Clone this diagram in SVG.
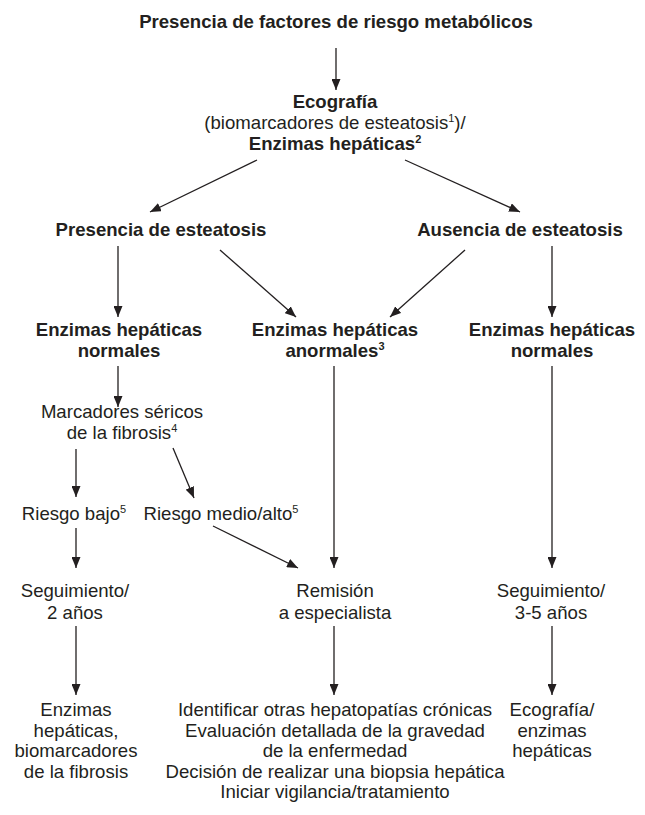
<svg xmlns="http://www.w3.org/2000/svg" width="645" height="815" viewBox="0 0 645 815">
<style>
text{font-family:"Liberation Sans",Arial,Helvetica,sans-serif;font-size:18.6px;fill:#231f20;text-anchor:middle}
.b{font-weight:bold}
.s{font-size:11px}
.c line{stroke:#231f20;stroke-width:1.3;fill:none;marker-end:url(#ah)}
</style>
<defs>
<marker id="ah" markerUnits="userSpaceOnUse" markerWidth="11" markerHeight="9" refX="11" refY="4.5" orient="auto">
<path d="M0,0 L11,4.5 L0,9 Z" fill="#231f20"/>
</marker>
</defs>
<rect width="645" height="815" fill="#fff"/>
<g id="n-factores"><text class="b" x="336" y="28">Presencia de factores de riesgo metabólicos</text></g>
<g id="n-ecografia">
<text class="b" x="335" y="108">Ecografía</text>
<text x="335" y="129">(biomarcadores de esteatosis<tspan class="s" dy="-7">1</tspan><tspan dy="7">)/</tspan></text>
<text class="b" x="335" y="150">Enzimas hepáticas<tspan class="s" dy="-7">2</tspan></text>
</g>
<g id="n-presencia"><text class="b" x="161" y="236">Presencia de esteatosis</text></g>
<g id="n-ausencia"><text class="b" x="520" y="236">Ausencia de esteatosis</text></g>
<g id="n-normales-izq">
<text class="b" x="119" y="336">Enzimas hepáticas</text>
<text class="b" x="119" y="357">normales</text>
</g>
<g id="n-anormales">
<text class="b" x="335" y="336">Enzimas hepáticas</text>
<text class="b" x="335" y="357">anormales<tspan class="s" dy="-7">3</tspan></text>
</g>
<g id="n-normales-der">
<text class="b" x="552" y="336">Enzimas hepáticas</text>
<text class="b" x="552" y="357">normales</text>
</g>
<g id="n-marcadores">
<text x="122" y="418">Marcadores séricos</text>
<text x="122" y="439">de la fibrosis<tspan class="s" dy="-7">4</tspan></text>
</g>
<g id="n-bajo"><text x="74" y="520">Riesgo bajo<tspan class="s" dy="-7">5</tspan></text></g>
<g id="n-medio"><text x="221" y="520">Riesgo medio/alto<tspan class="s" dy="-7">5</tspan></text></g>
<g id="n-seg2">
<text x="75" y="597">Seguimiento/</text>
<text x="75" y="619">2 años</text>
</g>
<g id="n-remision">
<text x="335" y="597">Remisión</text>
<text x="335" y="619">a especialista</text>
</g>
<g id="n-seg35">
<text x="551" y="597">Seguimiento/</text>
<text x="551" y="619">3-5 años</text>
</g>
<g id="n-final-izq">
<text x="76" y="716">Enzimas</text>
<text x="76" y="737">hepáticas,</text>
<text x="76" y="757">biomarcadores</text>
<text x="76" y="778">de la fibrosis</text>
</g>
<g id="n-final-centro">
<text x="335" y="716">Identificar otras hepatopatías crónicas</text>
<text x="335" y="737">Evaluación detallada de la gravedad</text>
<text x="335" y="757">de la enfermedad</text>
<text x="335" y="778">Decisión de realizar una biopsia hepática</text>
<text x="335" y="798">Iniciar vigilancia/tratamiento</text>
</g>
<g id="n-final-der">
<text x="552" y="716">Ecografía/</text>
<text x="552" y="737">enzimas</text>
<text x="552" y="757">hepáticas</text>
</g>
<g id="connectors" class="c">
<line x1="336" y1="48" x2="336" y2="90"/>
<line x1="257" y1="160" x2="150" y2="212"/>
<line x1="405" y1="160" x2="520" y2="212"/>
<line x1="118" y1="246" x2="118" y2="317"/>
<line x1="220" y1="250" x2="296" y2="317"/>
<line x1="465" y1="250" x2="390" y2="317"/>
<line x1="552" y1="246" x2="552" y2="317"/>
<line x1="118" y1="366" x2="118" y2="407"/>
<line x1="334" y1="366" x2="334" y2="568"/>
<line x1="552" y1="366" x2="552" y2="568"/>
<line x1="76" y1="449" x2="76" y2="497"/>
<line x1="173" y1="448" x2="194" y2="498"/>
<line x1="76" y1="528" x2="76" y2="568"/>
<line x1="213" y1="526" x2="298" y2="568"/>
<line x1="76" y1="626" x2="76" y2="695"/>
<line x1="334" y1="626" x2="334" y2="695"/>
<line x1="552" y1="626" x2="552" y2="695"/>
</g>
</svg>
